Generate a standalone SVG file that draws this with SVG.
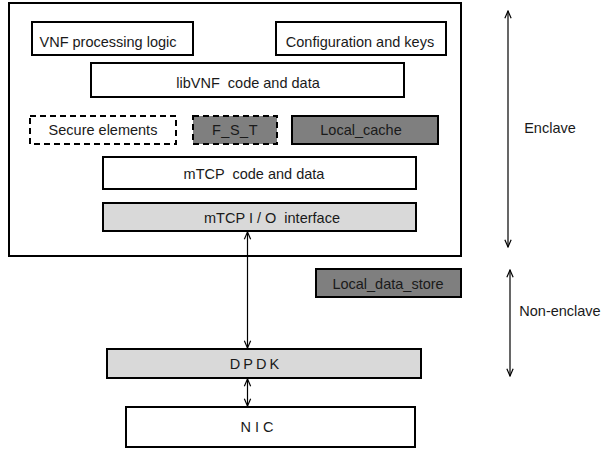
<svg xmlns="http://www.w3.org/2000/svg" width="604" height="449" viewBox="0 0 604 449">
<defs>
<marker id="ah" viewBox="0 0 10 10" refX="9" refY="5" markerWidth="9" markerHeight="9" markerUnits="userSpaceOnUse" orient="auto-start-reverse">
<path d="M1,1.5 L9,5 L1,8.5" fill="none" stroke="#000" stroke-width="1.3"/>
</marker>
<style>
.b{stroke:#000;stroke-width:2;}
.w{fill:#fff;}
.g{fill:#d9d9d9;}
.d{fill:#7f7f7f;}
.dash{stroke-dasharray:6,4;}
text{font-family:"Liberation Sans",Arial,sans-serif;font-size:14.5px;fill:#1a1a1a;text-anchor:middle;}
.c{stroke:#000;stroke-width:1.2;fill:none;marker-start:url(#ah);marker-end:url(#ah);}
</style>
</defs>
<rect width="604" height="449" fill="#fff"/>
<g id="enclave-box"><rect class="b w" x="9" y="3" width="452" height="253"/></g>
<g id="vnf"><rect class="b w" x="32" y="22" width="161" height="33"/><text x="108" y="47">VNF processing logic</text></g>
<g id="config"><rect class="b w" x="276" y="22" width="170" height="33"/><text x="360" y="47">Configuration and keys</text></g>
<g id="libvnf"><rect class="b w" x="91" y="63" width="313" height="34"/><text x="248" y="88" xml:space="preserve">libVNF  code and data</text></g>
<g id="secure"><rect class="b w dash" x="30" y="116" width="146" height="28"/><text x="103" y="135">Secure elements</text></g>
<g id="fst"><rect class="b d dash" x="193" y="116" width="84" height="28"/><text x="235" y="135" letter-spacing="0.5">F_S_T</text></g>
<g id="localcache"><rect class="b d" x="292" y="116" width="146" height="28"/><text x="361" y="135">Local_cache</text></g>
<g id="mtcp"><rect class="b w" x="103" y="157" width="313" height="32"/><text x="254" y="179" xml:space="preserve">mTCP  code and data</text></g>
<g id="mtcpio"><rect class="b g" x="103" y="203" width="313" height="28"/><text x="272" y="223" xml:space="preserve">mTCP I / O  interface</text></g>
<g id="localdatastore"><rect class="b d" x="316" y="269" width="145" height="28"/><text x="388" y="289">Local_data_store</text></g>
<g id="dpdk"><rect class="b g" x="107" y="349" width="314" height="29"/><text x="256" y="369" letter-spacing="3">DPDK</text></g>
<g id="nic"><rect class="b w" x="126" y="407" width="289" height="40"/><text x="259" y="432" letter-spacing="4">NIC</text></g>
<g id="labels">
<text x="550" y="133">Enclave</text>
<text x="560" y="316">Non-enclave</text>
</g>
<g id="connectors">
<line class="c" x1="247.5" y1="232" x2="247.5" y2="348"/>
<line class="c" x1="247.5" y1="379" x2="247.5" y2="406"/>
<line class="c" x1="508" y1="11" x2="508" y2="247"/>
<line class="c" x1="510" y1="270" x2="510" y2="376"/>
</g>
</svg>
